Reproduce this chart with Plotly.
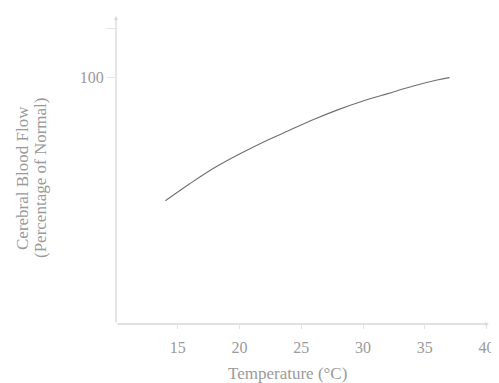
import plotly.graph_objects as go

temperature = [14, 16, 18, 20, 22, 24, 26, 28, 30, 32, 34, 36, 37]
cbf_percent = [50, 57, 63.5, 69, 74, 78.5, 83, 87, 90.5, 93.5, 96.5, 99, 100]

x_ticks = [15, 20, 25, 30, 35, 40]
y_ticks = [100, 120]
y_tick_text = ["100", ""]

x_title = "Temperature (°C)"
y_title_lines = ["Cerebral Blood Flow", "(Percentage of Normal)"]

font_family = "Liberation Serif, DejaVu Serif, serif"
text_color = "#9a9a9a"
axis_color = "#e3e3e3"

# page body has an 8px margin: size figure to fit the window
W, H = 491, 375
L, R, T, B = 108, 10, 8, 59
pw, ph = W - L - R, H - T - B


def px_x(fx):
    return (fx - L) / pw


def px_y(fy):
    return (T + ph - fy) / ph


fig = go.Figure()
fig.add_trace(go.Scatter(x=temperature, y=cbf_percent, mode="lines",
                         line=dict(color="#707070", width=1.1, shape="spline"),
                         showlegend=False, hoverinfo="skip"))

# axis arrows
fig.add_annotation(x=40.2, y=0, ax=10, ay=0, xref="x", yref="y", axref="x", ayref="y",
                   showarrow=True, arrowhead=2, arrowsize=0.6, arrowwidth=1.3,
                   arrowcolor="#d8d8d8", text="")
fig.add_annotation(x=10, y=125, ax=10, ay=0, xref="x", yref="y", axref="x", ayref="y",
                   showarrow=True, arrowhead=2, arrowsize=0.6, arrowwidth=1.3,
                   arrowcolor="#d8d8d8", text="")

# titles
fig.add_annotation(x=px_x(279), y=px_y(365), xref="paper", yref="paper",
                   text=x_title, showarrow=False, xanchor="center", yanchor="middle",
                   font=dict(size=17, color=text_color, family=font_family))
for fx, line in zip([14, 32], y_title_lines):
    fig.add_annotation(x=px_x(fx), y=px_y(170), xref="paper", yref="paper",
                       text=line, showarrow=False, textangle=-90,
                       xanchor="center", yanchor="middle",
                       font=dict(size=17, color=text_color, family=font_family))

fig.update_layout(
    width=W, height=H,
    margin=dict(l=L, r=R, t=T, b=B),
    paper_bgcolor="white", plot_bgcolor="white",
    font=dict(family=font_family, color=text_color, size=16),
    xaxis=dict(range=[10, 40.2], tickvals=x_ticks, showgrid=False, zeroline=False,
               showline=False, ticks="outside", ticklen=4, tickcolor=axis_color,
               ticklabelstandoff=5,
               automargin=False, tickfont=dict(size=16, color=text_color)),
    yaxis=dict(range=[0, 125], tickvals=y_ticks, ticktext=y_tick_text, showgrid=False,
               zeroline=False, showline=False, ticks="outside", ticklen=8,
               tickcolor=axis_color, tickfont=dict(size=16, color=text_color),
               automargin=False),
)

fig.write_html("out.html")
